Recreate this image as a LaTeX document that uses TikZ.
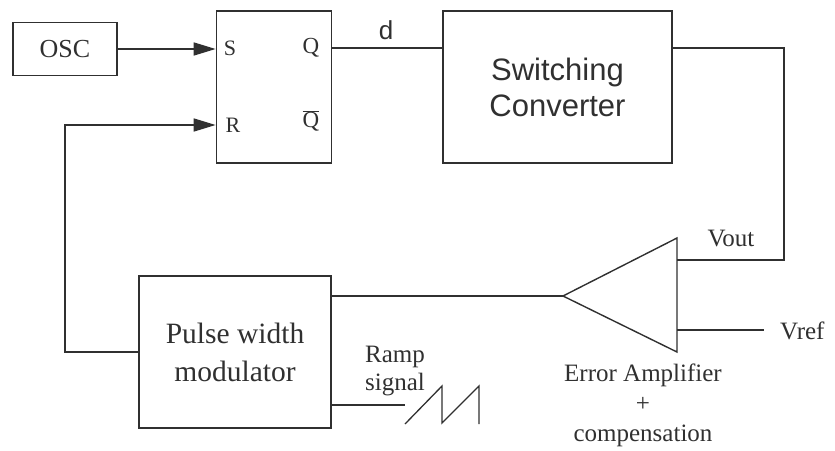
\documentclass[tikz,border=0pt]{standalone}
\usepackage{fontspec}
\setmainfont{Liberation Serif}
\newfontfamily\arialfont{Liberation Sans}
\usetikzlibrary{arrows.meta}
\definecolor{ink}{HTML}{303030}
\tikzset{
  blk/.style={draw=ink, line width=1.7pt, rectangle, inner sep=0pt, align=center, text=ink},
  wire/.style={draw=ink, line width=1.6pt},
  arr/.style={wire, -{Triangle[length=22pt,width=13pt]}},
  lbl/.style={text=ink, inner sep=0pt, align=center},
}
\begin{document}
\begin{tikzpicture}[x=1pt,y=-1pt]
\useasboundingbox (0,0) rectangle (835,450);
% blocks
\node[blk, minimum width=104pt, minimum height=53pt, font=\fontsize{26}{30}\selectfont] (osc) at (65,49) {OSC};
\node[blk, minimum width=115pt, minimum height=152pt] (sr) at (274,87) {};
\node[blk, minimum width=229pt, minimum height=152pt, font=\arialfont\fontsize{31}{36}\selectfont] (sc) at (557.5,87) {Switching\\Converter};
\node[blk, minimum width=192pt, minimum height=152pt, font=\fontsize{29.5}{38}\selectfont] (pwm) at (235,352) {Pulse width\\modulator};
% SR latch labels
\node[lbl, font=\fontsize{22}{24}\selectfont] (sl) at (230,48) {S};
\node[lbl, font=\fontsize{23}{24}\selectfont] (ql) at (311,48) {Q};
\node[lbl, font=\fontsize{22}{24}\selectfont] (rl) at (233,125) {R};
\node[lbl, font=\fontsize{23}{24}\selectfont] (qbl) at (311,121) {$\overline{\hbox{Q}}$};
% amplifier
\coordinate (ampA) at (563,296);
\coordinate (ampT) at (677,238);
\coordinate (ampB) at (677,352);
\draw[draw=ink, line width=1.4pt, line join=miter] (ampA) -- (ampT) -- (ampB) -- cycle;
\coordinate (vin) at (677,260);
\coordinate (vrefin) at (677,330);
% labels
\node[lbl, font=\arialfont\fontsize{26}{28}\selectfont] (d) at (386,30) {d};
\node[lbl, font=\fontsize{25}{28}\selectfont] (vout) at (731,239) {Vout};
\node[lbl, font=\fontsize{25}{28}\selectfont, anchor=west] (vref) at (780,331) {Vref};
\node[lbl, font=\fontsize{25}{28}\selectfont] (ramp) at (395,371) {Ramp\\signal};
\node[lbl, font=\fontsize{25}{30}\selectfont] (ea) at (643,405) {Error Amplifier\\+\\compensation};
% connectors
\draw[arr] (osc.east) -- (osc.east -| sr.west);
\coordinate (rin) at (65,125);
\draw[arr] (pwm.west) -| (rin) -- (rin -| sr.west);
\coordinate (qout) at (331,48);
\draw[wire] (qout) -- (qout -| sc.west);
\coordinate (corner) at (784,48);
\draw[wire] (sc.east |- corner) -- (corner) |- (vin);
\draw[wire] (ampA) -- (ampA -| pwm.east);
\coordinate (vrefend) at (764,330);
\draw[wire] (vrefin) -- (vrefend);
% ramp
\coordinate (rampstart) at (405,405);
\draw[wire] (rampstart -| pwm.east) -- (rampstart);
\draw[draw=ink, line width=1.3pt, line join=miter] (405,424) -- (442,386) -- (442,423) -- (479,386) -- (479,424);
\end{tikzpicture}
\end{document}
